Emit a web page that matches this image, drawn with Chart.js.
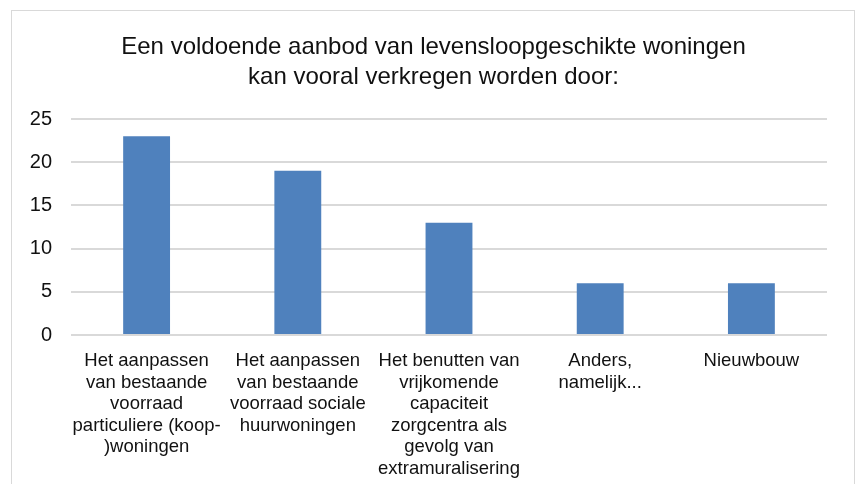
<!DOCTYPE html>
<html lang="nl">
<head>
<meta charset="UTF-8">
<title>Levensloopgeschikte woningen</title>
<script src="https://cdn.jsdelivr.net/npm/chart.js"></script>
<style>
  body { margin: 0; background: #fff; }
  .kader {
    position: absolute; left: 11px; top: 10px; width: 842px; height: 500px;
    border: 1px solid #d9d9d9;
  }
  .wrap { position: absolute; left: 0; top: 0; width: 859px; height: 484px; }
</style>
</head>
<body>
<div class="kader"></div>
<div class="wrap"><canvas id="grafiek"></canvas></div>

<script>
  // data uit de figuur
  const categorieen = [
    ['Het aanpassen', 'van bestaande', 'voorraad', 'particuliere (koop-', ')woningen'],
    ['Het aanpassen', 'van bestaande', 'voorraad sociale', 'huurwoningen'],
    ['Het benutten van', 'vrijkomende', 'capaciteit', 'zorgcentra als', 'gevolg van', 'extramuralisering'],
    ['Anders,', 'namelijk...'],
    ['Nieuwbouw']
  ];
  const aantallen = [23, 19, 13, 6, 6];
  const titel = ['Een voldoende aanbod van levensloopgeschikte woningen', 'kan vooral verkregen worden door:'];

  Chart.defaults.font.family = '"Liberation Sans", Arial, sans-serif';
  Chart.defaults.color = '#111';

  const ctx = document.getElementById('grafiek');
  new Chart(ctx, {
    type: 'bar',
    data: {
      labels: categorieen,
      datasets: [{
        data: aantallen,
        backgroundColor: '#4f81bd',
        categoryPercentage: 1,
        barPercentage: 0.31
      }]
    },
    options: {
      responsive: true,
      maintainAspectRatio: false,
      animation: false,
      // links/rechts bijna gelijk zodat de titel midden in het kader staat
      layout: { padding: { left: 15, right: 7, top: 32, bottom: 0 } },
      plugins: {
        legend: { display: false },
        tooltip: { enabled: false },
        title: {
          display: true,
          text: titel,
          font: { size: 24, weight: 'normal', lineHeight: 1.25 },
          padding: { top: 0, bottom: 27 }
        }
      },
      scales: {
        x: {
          grid: { display: false, drawTicks: false },
          border: { display: false },
          ticks: { font: { size: 18.5, lineHeight: 1.17 }, padding: 15, maxRotation: 0, autoSkip: false },
          afterFit: function (s) {
            s.paddingLeft = 0;
            s.paddingRight = 32;
            s.height = 149;
          }
        },
        y: {
          min: 0, max: 25,
          grid: { color: '#d9d9d9', lineWidth: 2, drawTicks: false },
          border: { display: false },
          ticks: { stepSize: 5, font: { size: 20 }, padding: 19 },
          afterFit: function (s) {
            s.width = 56;
          }
        }
      }
    }
  });
</script>
</body>
</html>
